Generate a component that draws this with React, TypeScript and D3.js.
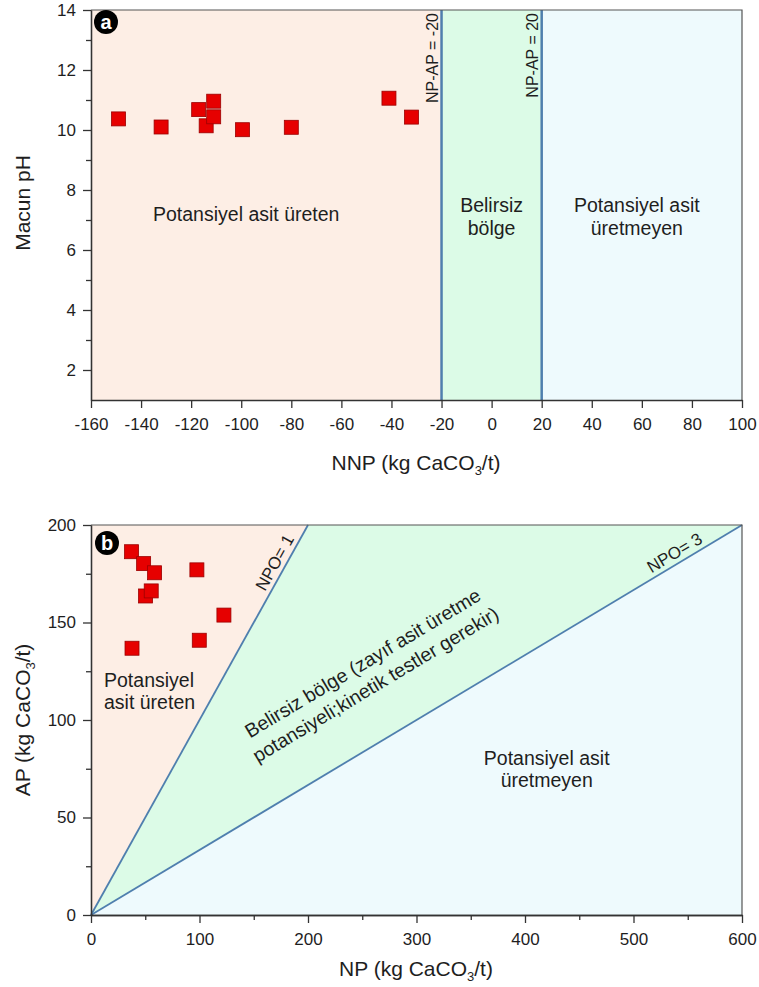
import React from 'react'
import * as d3 from 'd3'

// panel a: NNP vs paste pH
const nnpValues = [-149, -132, -117, -114, -111, -111, -99.5, -80, -41, -32]
const pasteP_H = [10.37, 10.1, 10.68, 10.14, 10.96, 10.44, 10.01, 10.09, 11.06, 10.43]
const nnpTicks = [-160, -140, -120, -100, -80, -60, -40, -20, 0, 20, 40, 60, 80, 100]
const phTicks = [2, 4, 6, 8, 10, 12, 14]
const phMinor = [3, 5, 7, 9, 11, 13]
const nnpLimits = [-20, 20]

// panel b: NP vs AP
const npValues = [37.4, 48.5, 58.6, 97.6, 50.3, 55.5, 122.5, 99.8, 37.8]
const apValues = [186.3, 180.2, 175.5, 177, 163.6, 166.2, 153.8, 140.9, 136.8]
const npTicks = [0, 100, 200, 300, 400, 500, 600]
const npMinor = [50, 150, 250, 350, 450, 550]
const apTicks = [0, 50, 100, 150, 200]
const apMinor = [25, 75, 125, 175]
const npoRatios = [1, 3]

const FONT = '"Liberation Sans", Arial, Helvetica, sans-serif'
const PEACH = '#fdeee5'
const GREEN = '#dcfbe7'
const BLUE = '#eefafd'
const LINE = '#4f7fae'
const INK = '#1e1e1e'

export default function App() {
  const svgRef = React.useRef<SVGSVGElement>(null)

  React.useEffect(() => {
    const svg = d3.select(svgRef.current)
    svg.selectAll('*').remove()

    const styleAxis = (sel: any) => {
      sel.select('.domain').attr('stroke', '#333').attr('stroke-width', 1.3)
      sel.selectAll('.tick line').attr('stroke', '#333').attr('stroke-width', 1.3)
      sel.selectAll('.tick text')
        .attr('font-family', FONT)
        .attr('font-size', 17)
        .attr('fill', INK)
    }

    const plain = (d: any) => String(d)

    const drawAxes = (x: any, y: any, xMajor: number[], xMinor: number[], yMajor: number[], yMinor: number[]) => {
      const [x0, x1] = x.range()
      const [y0, y1] = y.range()
      // frame on top/right
      svg.append('path')
        .attr('d', `M${x0},${y1}H${x1}V${y0}`)
        .attr('fill', 'none')
        .attr('stroke', '#555')
        .attr('stroke-width', 1.2)

      if (xMinor.length) {
        svg.append('g')
          .attr('transform', `translate(0,${y0})`)
          .call(d3.axisBottom(x).tickValues(xMinor).tickSize(5).tickSizeOuter(0).tickFormat(() => ''))
          .call(styleAxis)
      }
      svg.append('g')
        .attr('transform', `translate(0,${y0})`)
        .call(d3.axisBottom(x).tickValues(xMajor).tickSize(8).tickSizeOuter(0).tickPadding(10).tickFormat(plain))
        .call(styleAxis)

      if (yMinor.length) {
        svg.append('g')
          .attr('transform', `translate(${x0},0)`)
          .call(d3.axisLeft(y).tickValues(yMinor).tickSize(5).tickSizeOuter(0).tickFormat(() => ''))
          .call(styleAxis)
      }
      svg.append('g')
        .attr('transform', `translate(${x0},0)`)
        .call(d3.axisLeft(y).tickValues(yMajor).tickSize(8).tickSizeOuter(0).tickPadding(7).tickFormat(plain))
        .call(styleAxis)
    }

    const drawSquares = (x: any, y: any, xs: number[], ys: number[]) => {
      const s = 14
      svg.append('g')
        .selectAll('rect')
        .data(xs.map((v, i) => [v, ys[i]]))
        .enter()
        .append('rect')
        .attr('x', d => x(d[0]) - s / 2)
        .attr('y', d => y(d[1]) - s / 2)
        .attr('width', s)
        .attr('height', s)
        .attr('fill', '#e60000')
        .attr('stroke', '#9b0000')
        .attr('stroke-width', 0.8)
    }

    const badge = (cx: number, cy: number, letter: string) => {
      svg.append('circle').attr('cx', cx).attr('cy', cy).attr('r', 12).attr('fill', '#000')
      svg.append('text')
        .attr('x', cx).attr('y', cy + 6.5)
        .attr('text-anchor', 'middle')
        .attr('font-family', FONT).attr('font-weight', 'bold').attr('font-size', 20)
        .attr('fill', '#fff')
        .text(letter)
    }

    const label = (x: number, y: number, lines: string[], size = 19.5, anchor = 'middle', gap = 23) => {
      const t = svg.append('text')
        .attr('font-family', FONT).attr('font-size', size).attr('fill', INK)
        .attr('text-anchor', anchor)
      lines.forEach((ln, i) => {
        t.append('tspan').attr('x', x).attr('y', y + i * gap).text(ln)
      })
    }

    const axisTitle = (x: number, y: number, pre: string, rotate = false) => {
      const t = svg.append('text')
        .attr('transform', rotate ? `translate(${x},${y}) rotate(-90)` : `translate(${x},${y})`)
        .attr('text-anchor', 'middle')
        .attr('font-family', FONT).attr('font-size', 21).attr('fill', INK)
      t.append('tspan').text(pre + ' (kg CaCO')
      t.append('tspan').attr('font-size', 13).attr('dy', 5).text('3')
      t.append('tspan').attr('dy', -5).text('/t)')
    }

    // ---------- panel a ----------
    const xA = d3.scaleLinear().domain([-160, 100]).range([91, 742])
    const yA = d3.scaleLinear().domain([1, 14]).range([400, 10])
    const zones = [[-160, nnpLimits[0], PEACH], [nnpLimits[0], nnpLimits[1], GREEN], [nnpLimits[1], 100, BLUE]]
    svg.append('g').selectAll('rect').data(zones).enter().append('rect')
      .attr('x', (d: any) => xA(d[0]))
      .attr('width', (d: any) => xA(d[1]) - xA(d[0]))
      .attr('y', yA(14))
      .attr('height', yA(1) - yA(14))
      .attr('fill', (d: any) => d[2])

    nnpLimits.forEach(v => {
      svg.append('line')
        .attr('x1', xA(v)).attr('x2', xA(v))
        .attr('y1', yA(14)).attr('y2', yA(1))
        .attr('stroke', LINE).attr('stroke-width', 2.5)
      svg.append('text')
        .attr('transform', `translate(${xA(v) - 4},${yA(14) + 3}) rotate(-90)`)
        .attr('text-anchor', 'end')
        .attr('font-family', FONT).attr('font-size', 16).attr('fill', INK)
        .text(`NP-AP = ${v}`)
    })

    drawAxes(xA, yA, nnpTicks, [], phTicks, phMinor)
    drawSquares(xA, yA, nnpValues, pasteP_H)
    badge(106, 22, 'a')

    label(xA(-98), yA(6.97), ['Potansiyel asit üreten'])
    label(xA(0), yA(7.27), ['Belirsiz', 'bölge'])
    label(xA(58), yA(7.27), ['Potansiyel asit', 'üretmeyen'])

    axisTitle(416, 470, 'NNP')
    svg.append('text')
      .attr('transform', 'translate(30,203) rotate(-90)')
      .attr('text-anchor', 'middle')
      .attr('font-family', FONT).attr('font-size', 21).attr('fill', INK)
      .text('Macun pH')

    // ---------- panel b ----------
    const xB = d3.scaleLinear().domain([0, 600]).range([91, 742])
    const yB = d3.scaleLinear().domain([0, 200]).range([915, 525])
    const poly = d3.line<number[]>().x(d => xB(d[0])).y(d => yB(d[1]))
    const tops = npoRatios.map(r => 200 * r)
    const polys: [number[][], string][] = [
      [[[0, 0], [0, 200], [tops[0], 200]], PEACH],
      [[[0, 0], [tops[0], 200], [tops[1], 200]], GREEN],
      [[[0, 0], [tops[1], 200], [600, 0]], BLUE],
    ]
    polys.forEach(([pts, c]) => {
      svg.append('path').attr('d', poly(pts) + 'Z').attr('fill', c)
    })

    npoRatios.forEach((r, i) => {
      svg.append('line')
        .attr('x1', xB(0)).attr('y1', yB(0))
        .attr('x2', xB(200 * r)).attr('y2', yB(200))
        .attr('stroke', LINE).attr('stroke-width', 1.8)
      const ap = i === 0 ? 178 : 181
      const ang = Math.atan2(yB(200) - yB(0), xB(200 * r) - xB(0)) * 180 / Math.PI
      svg.append('text')
        .attr('transform', `translate(${xB(ap * r)},${yB(ap)}) rotate(${ang})`)
        .attr('dy', -5)
        .attr('text-anchor', 'middle')
        .attr('font-family', FONT).attr('font-size', 17).attr('fill', INK)
        .text(`NPO= ${r}`)
    })

    drawAxes(xB, yB, npTicks, npMinor, apTicks, apMinor)
    drawSquares(xB, yB, npValues, apValues)
    badge(107, 543, 'b')

    label(xB(12), yB(117), ['Potansiyel', 'asit üreten'], 19.5, 'start', 22.5)
    label(xB(420), yB(77), ['Potansiyel asit', 'üretmeyen'], 19.5, 'middle', 22)

    const angB = Math.atan2(yB(200) - yB(0), xB(600) - xB(0)) * 180 / Math.PI
    const mid = svg.append('text')
      .attr('transform', `translate(${xB(256)},${yB(124)}) rotate(${angB})`)
      .attr('text-anchor', 'middle')
      .attr('font-family', FONT).attr('font-size', 19.5).attr('fill', INK)
    mid.append('tspan').attr('x', 0).attr('y', -5).text('Belirsiz bölge (zayıf asit üretme')
    mid.append('tspan').attr('x', 0).attr('y', 20).text('potansiyeli;kinetik testler gerekir)')

    axisTitle(416, 976, 'NP')
    axisTitle(30, 720, 'AP', true)
  }, [])

  return (
    <svg
      ref={svgRef}
      width={759}
      height={987}
      style={{ position: 'absolute', left: 0, top: 0, background: '#fff' }}
    />
  )
}
